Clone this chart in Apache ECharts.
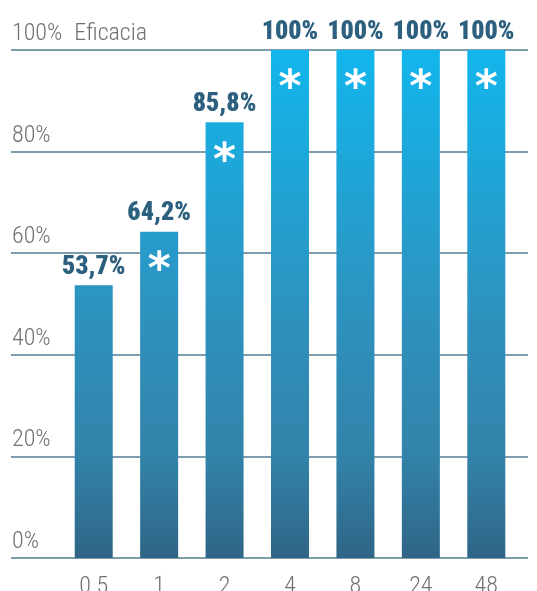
<!DOCTYPE html>
<html>
<head>
<meta charset="utf-8">
<script src="https://cdn.jsdelivr.net/npm/echarts@6/dist/echarts.min.js"></script>
<style>
html,body{margin:0;padding:0;background:#fff;}
#c{width:537px;height:591px;}
</style>
</head>
<body>
<div id="c"></div>
<script>
const categories = ['0.5', '1', '2', '4', '8', '24', '48'];
const efficacy = [53.7, 64.2, 85.8, 100, 100, 100, 100];
const significant = [false, true, true, true, true, true, true];
const yTicks = [0, 20, 40, 60, 80, 100];
const yTitle = 'Eficacia';

const chart = echarts.init(document.getElementById('c'));
const txtFont = '"Roboto Condensed", "Liberation Sans Narrow", "Noto Sans Condensed", Roboto, sans-serif';
const gradient = {
  type: 'linear', x: 0, y: 50, x2: 0, y2: 558, global: true,
  colorStops: [
    { offset: 0, color: '#12b6ec' },
    { offset: 0.5, color: '#2d93c0' },
    { offset: 0.8, color: '#3283a9' },
    { offset: 1, color: '#2f6586' }
  ]
};

chart.setOption({
  animation: false,
  grid: [
    { left: 61, right: 18, top: 50, bottom: 33, outerBoundsMode: 'none', containLabel: false },
    { left: 11, right: 9, top: 50, bottom: 33, outerBoundsMode: 'none', containLabel: false }
  ],
  xAxis: [
    {
      type: 'category', gridIndex: 0, data: categories,
      axisLine: { show: false }, axisTick: { show: false },
      axisLabel: { color: '#707070', fontSize: 24, fontWeight: 300, fontFamily: txtFont, margin: 17 }
    },
    { type: 'value', gridIndex: 1, show: false, min: 0, max: 1 }
  ],
  yAxis: [
    { type: 'value', gridIndex: 0, min: 0, max: 100, show: false },
    {
      type: 'value', gridIndex: 1, min: yTicks[0], max: yTicks[yTicks.length - 1], interval: 20,
      axisLine: { show: false }, axisTick: { show: false },
      splitLine: { show: true, lineStyle: { color: '#7d9dae', width: 2 } },
      axisLabel: {
        inside: true, margin: 1, verticalAlign: 'bottom', align: 'left',
        color: '#707070', fontSize: 24, fontWeight: 300, fontFamily: txtFont, padding: [0, 0, 4, 0],
        formatter: v => v === 100 ? '{a|' + v + '%}{b|' + yTitle + '}' : v + '%',
        rich: {
          a: { color: '#707070', fontSize: 24, fontWeight: 300, fontFamily: txtFont },
          b: { color: '#707070', fontSize: 24, fontWeight: 300, fontFamily: txtFont, padding: [0, 0, 0, 12] }
        }
      }
    }
  ],
  series: [
    {
      type: 'bar', xAxisIndex: 0, yAxisIndex: 0, barWidth: 38, z: 3,
      data: efficacy,
      itemStyle: { color: gradient },
      label: {
        show: true, position: 'top', distance: 5,
        color: '#2d5f7e', fontSize: 26, fontWeight: 900, fontFamily: txtFont,
        formatter: p => (p.value === 100 ? '100' : p.value.toFixed(1).replace('.', ',')) + '%'
      }
    },
    {
      type: 'bar', xAxisIndex: 0, yAxisIndex: 0, barWidth: 38, barGap: '-100%', z: 4,
      data: efficacy.map((v, i) => ({ value: v, label: { show: significant[i] } })),
      itemStyle: { color: 'rgba(0,0,0,0)' },
      silent: true,
      label: {
        show: true, position: 'insideTop', distance: 18,
        color: '#ffffff', fontSize: 44, fontWeight: 'bold', fontFamily: '"DejaVu Sans", sans-serif',
        formatter: '*'
      }
    }
  ]
});
</script>
</body>
</html>
